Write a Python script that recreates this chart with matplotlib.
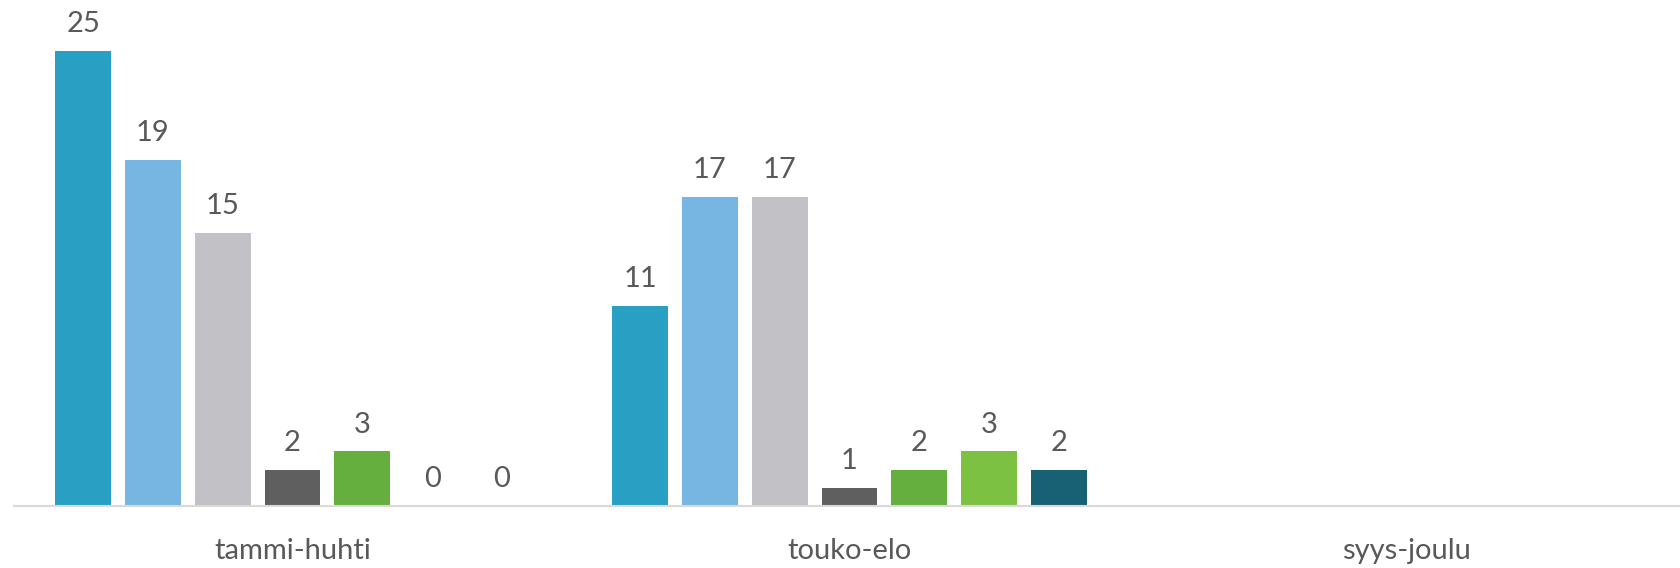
import numpy as np
import matplotlib.pyplot as plt

# jaksot ja sarjat
categories = ["tammi-huhti", "touko-elo", "syys-joulu"]
series = [
    [25, 11, np.nan],
    [19, 17, np.nan],
    [15, 17, np.nan],
    [2, 1, np.nan],
    [3, 2, np.nan],
    [0, 3, np.nan],
    [0, 2, np.nan],
]
colors = ["#29A0C3", "#77B5E2", "#C2C2C6", "#5F5F5F", "#65AF3E", "#7CC142", "#186175"]

plt.rcParams["font.family"] = ["Lato", "DejaVu Sans"]

fig = plt.figure(figsize=(16.8, 5.68), dpi=100)
ax = fig.add_axes([14 / 1680, 62 / 568, 1671 / 1680, 1 - 62 / 568])

x = np.arange(len(categories))
pitch = 0.1253
width = 0.1
n = len(series)
for i, (vals, c) in enumerate(zip(series, colors)):
    pos = x + (i - (n - 1) / 2) * pitch
    ax.bar(pos, vals, width=width, color=c, zorder=2)
    for p, v in zip(pos, vals):
        if np.isnan(v):
            continue
        ax.annotate(f"{v:g}", (p, v), xytext=(0, 10), textcoords="offset points",
                    ha="center", va="bottom", fontsize=21, color="#595959")

ax.set_xlim(-0.5, 2.5)
ax.set_ylim(0, 27.8)
ax.set_xticks(x)
ax.set_xticklabels(categories, fontsize=21, color="#595959")
ax.tick_params(axis="x", length=0, pad=23)
ax.set_yticks([])
for s in ["top", "right", "left"]:
    ax.spines[s].set_visible(False)
ax.spines["bottom"].set_color("#D9D9D9")
ax.spines["bottom"].set_linewidth(1.5)

fig.savefig("out.png", dpi=100)
